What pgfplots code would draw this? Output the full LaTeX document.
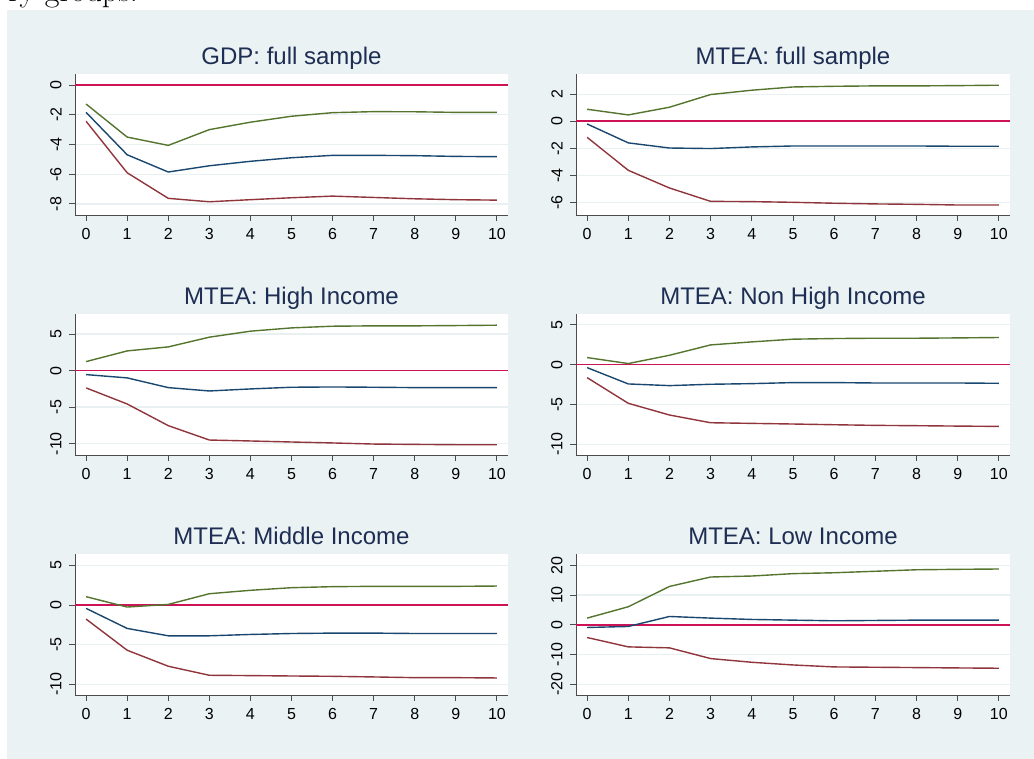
\documentclass[border=0pt]{standalone}
\usepackage{pgfplots}
\pgfplotsset{compat=1.18}
\usepackage{fontspec}
\newfontfamily\arial{Liberation Sans}
\definecolor{bgc}{RGB}{234,242,243}
\definecolor{gridc}{RGB}{232,240,242}
\definecolor{navyc}{RGB}{26,71,111}
\definecolor{maroonc}{RGB}{144,53,59}
\definecolor{greenc}{RGB}{85,117,47}
\definecolor{zeroc}{RGB}{206,18,86}
\definecolor{titlec}{RGB}{30,45,83}
\pgfplotsset{
  panel/.style={
    scale only axis, width=216.5bp, height=70.5bp,
    axis x line*=bottom, axis y line*=left,
    axis line style={-, draw=black!70, line width=0.5bp},
    axis background/.style={fill=white},
    xmin=-0.27, xmax=10.27, xtick={0,1,...,10},
    tick align=outside, major tick length=3bp,
    tick style={draw=black!70, line width=0.5bp},
    ymajorgrids, grid style={draw=gridc, line width=0.7bp},
    /pgf/number format/assume math mode=true,
    tick label style={font=\arial\fontsize{8bp}{8bp}\selectfont, text=black},
    xticklabel style={inner sep=0pt, anchor=north},
    xticklabel shift=3.35bp,
    yticklabel style={rotate=90, inner sep=0pt, anchor=south},
    yticklabel shift=3.5bp,
    every axis title/.style={at={(0.5,1)}, anchor=base, yshift=5bp, inner sep=0pt,
      font=\arial\fontsize{12bp}{12bp}\selectfont, text=titlec},
    every axis plot/.append style={line width=0.7bp},
  },
  zl/.style={zeroc, line width=0.8bp, forget plot},
  nv/.style={navyc},
  mr/.style={maroonc},
  gr/.style={greenc},
}
\begin{document}
\begin{tikzpicture}
\path[use as bounding box, clip] (0bp,0bp) rectangle (517bp,-379.5bp);
\fill[bgc] (3.5bp,-5bp) rectangle (517bp,-379.5bp);
\node[font=\fontsize{16bp}{18bp}\selectfont, anchor=base west, inner sep=0pt] at (4bp,-0.75bp) {ry groups.};

% Panel 1
\begin{axis}[panel, at={(37.5bp,-37bp)}, anchor=north west, title={GDP: full sample},
  ymin=-8.74, ymax=0.74, ytick={-8,-6,-4,-2,0}]
\addplot[zl] coordinates {(-0.27,0) (10.27,0)};
\addplot[nv] coordinates {(0,-1.84) (1,-4.69) (2,-5.85) (3,-5.43) (4,-5.13) (5,-4.89) (6,-4.73) (7,-4.73) (8,-4.75) (9,-4.80) (10,-4.82)};
\addplot[mr] coordinates {(0,-2.44) (1,-5.90) (2,-7.62) (3,-7.85) (4,-7.71) (5,-7.58) (6,-7.47) (7,-7.56) (8,-7.65) (9,-7.71) (10,-7.74)};
\addplot[gr] coordinates {(0,-1.28) (1,-3.50) (2,-4.06) (3,-3.00) (4,-2.50) (5,-2.10) (6,-1.86) (7,-1.79) (8,-1.80) (9,-1.84) (10,-1.84)};
\end{axis}

% Panel 2
\begin{axis}[panel, width=217bp, at={(288bp,-37bp)}, anchor=north west, title={MTEA: full sample},
  ymin=-6.94, ymax=3.5, ytick={-6,-4,-2,0,2}]
\addplot[zl] coordinates {(-0.27,0) (10.27,0)};
\addplot[nv] coordinates {(0,-0.20) (1,-1.60) (2,-1.98) (3,-2.02) (4,-1.90) (5,-1.83) (6,-1.83) (7,-1.83) (8,-1.83) (9,-1.85) (10,-1.85)};
\addplot[mr] coordinates {(0,-1.19) (1,-3.63) (2,-4.94) (3,-5.93) (4,-5.95) (5,-6.00) (6,-6.07) (7,-6.12) (8,-6.15) (9,-6.20) (10,-6.20)};
\addplot[gr] coordinates {(0,0.89) (1,0.47) (2,1.04) (3,1.98) (4,2.30) (5,2.54) (6,2.59) (7,2.62) (8,2.62) (9,2.64) (10,2.67)};
\end{axis}

% Panel 3
\begin{axis}[panel, at={(37.5bp,-157bp)}, anchor=north west, title={MTEA: High Income},
  ymin=-11.55, ymax=7.74, ytick={-10,-5,0,5}]
\addplot[zl] coordinates {(-0.27,0) (10.27,0)};
\addplot[nv] coordinates {(0,-0.55) (1,-1.00) (2,-2.33) (3,-2.79) (4,-2.51) (5,-2.28) (6,-2.24) (7,-2.28) (8,-2.33) (9,-2.33) (10,-2.33)};
\addplot[mr] coordinates {(0,-2.37) (1,-4.57) (2,-7.53) (3,-9.50) (4,-9.63) (5,-9.77) (6,-9.90) (7,-10.05) (8,-10.10) (9,-10.14) (10,-10.14)};
\addplot[gr] coordinates {(0,1.23) (1,2.69) (2,3.24) (3,4.57) (4,5.39) (5,5.84) (6,6.07) (7,6.12) (8,6.12) (9,6.16) (10,6.21)};
\end{axis}

% Panel 4
\begin{axis}[panel, width=217bp, at={(288bp,-157bp)}, anchor=north west, title={MTEA: Non High Income},
  ymin=-11.35, ymax=6.35, ytick={-10,-5,0,5}]
\addplot[zl] coordinates {(-0.27,0) (10.27,0)};
\addplot[nv] coordinates {(0,-0.38) (1,-2.43) (2,-2.64) (3,-2.47) (4,-2.39) (5,-2.26) (6,-2.26) (7,-2.31) (8,-2.31) (9,-2.31) (10,-2.35)};
\addplot[mr] coordinates {(0,-1.64) (1,-4.86) (2,-6.33) (3,-7.30) (4,-7.38) (5,-7.46) (6,-7.55) (7,-7.63) (8,-7.67) (9,-7.72) (10,-7.76)};
\addplot[gr] coordinates {(0,0.88) (1,0.13) (2,1.17) (3,2.47) (4,2.85) (5,3.19) (6,3.27) (7,3.31) (8,3.31) (9,3.35) (10,3.40)};
\end{axis}

% Panel 5
\begin{axis}[panel, at={(37.5bp,-277bp)}, anchor=north west, title={MTEA: Middle Income},
  ymin=-11.35, ymax=6.44, ytick={-10,-5,0,5}]
\addplot[zl] coordinates {(-0.27,0) (10.27,0)};
\addplot[nv] coordinates {(0,-0.42) (1,-2.95) (2,-3.88) (3,-3.88) (4,-3.71) (5,-3.59) (6,-3.54) (7,-3.54) (8,-3.59) (9,-3.59) (10,-3.59)};
\addplot[mr] coordinates {(0,-1.77) (1,-5.70) (2,-7.72) (3,-8.86) (4,-8.90) (5,-8.95) (6,-8.99) (7,-9.07) (8,-9.16) (9,-9.16) (10,-9.20)};
\addplot[gr] coordinates {(0,1.05) (1,-0.25) (2,0.08) (3,1.43) (4,1.86) (5,2.19) (6,2.32) (7,2.36) (8,2.36) (9,2.36) (10,2.40)};
\end{axis}

% Panel 6
\begin{axis}[panel, width=217bp, at={(288bp,-277bp)}, anchor=north west, title={MTEA: Low Income},
  ymin=-23.6, ymax=23.8, ytick={-20,-10,0,10,20}]
\addplot[zl] coordinates {(-0.27,0) (10.27,0)};
\addplot[nv] coordinates {(0,-0.90) (1,-0.56) (2,2.80) (3,2.25) (4,1.80) (5,1.57) (6,1.35) (7,1.46) (8,1.57) (9,1.57) (10,1.57)};
\addplot[mr] coordinates {(0,-4.27) (1,-7.42) (2,-7.75) (3,-11.35) (4,-12.60) (5,-13.50) (6,-14.16) (7,-14.27) (8,-14.38) (9,-14.50) (10,-14.60)};
\addplot[gr] coordinates {(0,2.25) (1,6.07) (2,12.90) (3,16.07) (4,16.40) (5,17.20) (6,17.50) (7,18.00) (8,18.50) (9,18.65) (10,18.76)};
\end{axis}
\end{tikzpicture}
\end{document}
